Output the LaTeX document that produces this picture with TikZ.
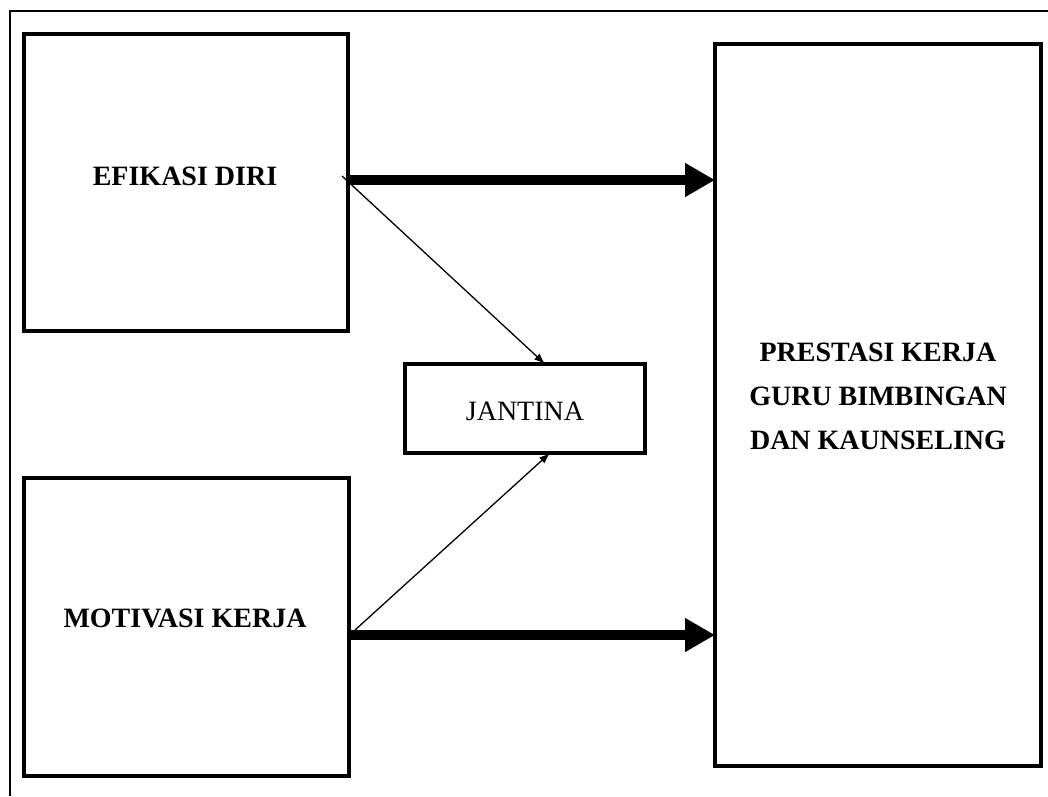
\documentclass[tikz,border=0pt]{standalone}
\usepackage{fontspec}
\setmainfont{Liberation Serif}
\usetikzlibrary{arrows.meta}
\begin{document}
\begin{tikzpicture}[x=1pt,y=-1pt,
  boxstyle/.style={draw=black,line width=4pt,outer sep=0pt,inner sep=0pt,fill=none},
  labelstyle/.style={font=\fontsize{28}{44}\selectfont\bfseries,align=center,inner sep=0pt},
  thinarrow/.style={line width=1.3pt,-{Latex[length=11pt,width=8pt]}},
  thickarrow/.style={line width=10pt,-{Triangle[length=30pt,width=32pt]}}]
\useasboundingbox (0,0) rectangle (1048,796);
% outer frame (only top and left visible)
\draw[line width=2pt] (10,796) -- (10,10.5) -- (1048,10.5);
% boxes
\node[boxstyle,minimum width=324pt,minimum height=297.5pt] (efi) at (185.5,182.25) {};
\node[boxstyle,minimum width=325pt,minimum height=298pt] (mot) at (186,627) {};
\node[boxstyle,minimum width=326pt,minimum height=722pt] (pres) at (878,405) {};
\node[boxstyle,minimum width=240pt,minimum height=89pt] (jan) at (525,408.5) {};
% texts
\node[labelstyle] (efitext) at (185,176) {EFIKASI DIRI};
\node[labelstyle] (mottext) at (185,618) {MOTIVASI KERJA};
\node[labelstyle] (prestext) at (878,396) {PRESTASI KERJA\\GURU BIMBINGAN\\DAN KAUNSELING};
\node[font=\fontsize{28}{34}\selectfont,inner sep=0pt] (jantext) at (525,411) {JANTINA};
% connectors
\coordinate (a1) at (349,180);
\coordinate (a2) at (349,635);
\coordinate (s1) at (342,176);
\coordinate (s2) at (355,630);
\draw[thickarrow] (a1) -- (a1 -| pres.west);
\draw[thickarrow] (a2) -- (a2 -| pres.west);
\draw[thinarrow] (s1) -- ([xshift=20pt]jan.north);
\draw[thinarrow] (s2) -- ([xshift=25pt]jan.south);
\end{tikzpicture}
\end{document}
